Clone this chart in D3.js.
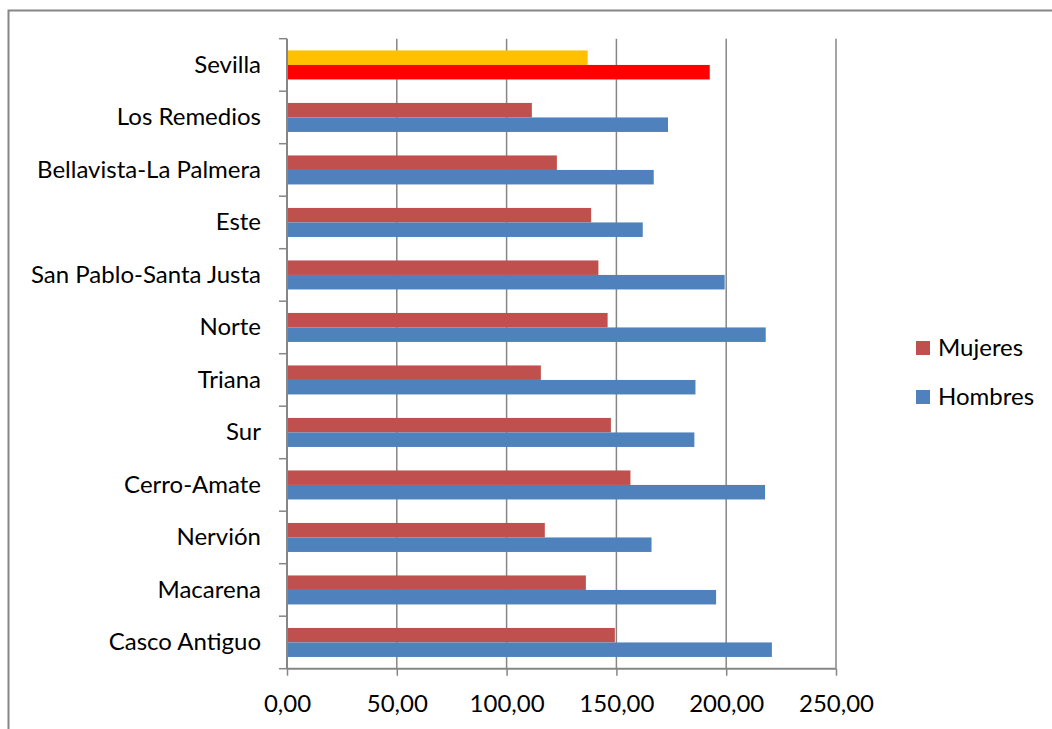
<!DOCTYPE html>
<html><head><meta charset="utf-8">
<script src="https://cdn.jsdelivr.net/npm/d3@7"></script>
<style>body{margin:0;background:#fff}svg{display:block}text{font-family:Lato,"Open Sans",sans-serif;fill:#000}</style>
</head><body><svg id="c" width="1052" height="729"></svg>
<script>
const categories = ["Sevilla","Los Remedios","Bellavista-La Palmera","Este","San Pablo-Santa Justa","Norte","Triana","Sur","Cerro-Amate","Nervión","Macarena","Casco Antiguo"];
const mujeres = [136.9,111.5,122.9,138.5,141.8,146.0,115.6,147.5,156.4,117.4,136.1,149.3];
const hombres = [192.5,173.5,167.0,162.0,199.3,218.0,186.0,185.5,217.7,166.0,195.4,220.8];
const seriesNames = ["Mujeres","Hombres"];
const xTicks = [0,50,100,150,200,250];

const FS = 24;
const svg = d3.select("#c");
svg.append("rect").attr("x",8.5).attr("y",10.5).attr("width",1100).attr("height",800)
  .attr("fill","none").attr("stroke","#868686").attr("stroke-width",2);

const x = d3.scaleLinear().domain([0,250]).range([287,836]);
const y = d3.scaleBand().domain(categories).range([38.7,668.7]);
const sub = d3.scaleBand().domain(seriesNames).range([0,y.bandwidth()]).paddingOuter(0.81);
const color = (s,i) => i===0 ? (s==="Mujeres"?"#FFC000":"#FF0000") : (s==="Mujeres"?"#C0504D":"#4F81BD");

// gridlines
svg.append("g").selectAll("line").data(xTicks.slice(1)).join("line")
  .attr("x1",d=>x(d)).attr("x2",d=>x(d)).attr("y1",38.7).attr("y2",668.7)
  .attr("stroke","#868686").attr("stroke-width",1.5);

// bars
const data = [mujeres, hombres];
seriesNames.forEach((s,si)=>{
  svg.append("g").selectAll("rect").data(categories).join("rect")
    .attr("x",x(0)).attr("y",c=>y(c)+sub(s)).attr("height",sub.bandwidth())
    .attr("width",(c,i)=>x(data[si][i])-x(0))
    .attr("fill",(c,i)=>color(s,i));
});

// x axis
const fmt = d => d3.format(".2f")(d).replace(".",",");
const xa = svg.append("g").attr("transform","translate(0,668.7)")
  .call(d3.axisBottom(x).tickValues(xTicks).tickFormat(fmt).tickSize(7));
xa.select(".domain").attr("stroke","#868686").attr("stroke-width",2).attr("d","M287,0H836");
xa.selectAll(".tick line").attr("stroke","#868686").attr("stroke-width",1.5);
xa.selectAll("text").attr("font-size",FS).attr("font-family","Lato,sans-serif").attr("fill","#000")
  .attr("dy",null).attr("y",43);

// y axis
const ya = svg.append("g").attr("transform","translate(287,0)")
  .call(d3.axisLeft(y).tickSize(0).tickPadding(26));
ya.select(".domain").attr("stroke","#868686").attr("stroke-width",2).attr("d","M0,38.7V668.7");
ya.selectAll("text").attr("font-size",FS).attr("font-family","Lato,sans-serif").attr("fill","#000");
const bounds = categories.map(c=>y(c)).concat([668.7]);
svg.append("g").selectAll("line").data(bounds).join("line")
  .attr("x1",279).attr("x2",287).attr("y1",d=>d).attr("y2",d=>d)
  .attr("stroke","#868686").attr("stroke-width",1.5);

// legend
const leg = svg.append("g");
seriesNames.forEach((s,i)=>{
  const gy = 341 + i*49;
  leg.append("rect").attr("x",916).attr("y",gy).attr("width",14).attr("height",14).attr("fill",color(s,1));
  leg.append("text").attr("x",938).attr("y",gy+7).attr("dy","0.35em").attr("font-size",FS).text(s);
});
</script></body></html>
